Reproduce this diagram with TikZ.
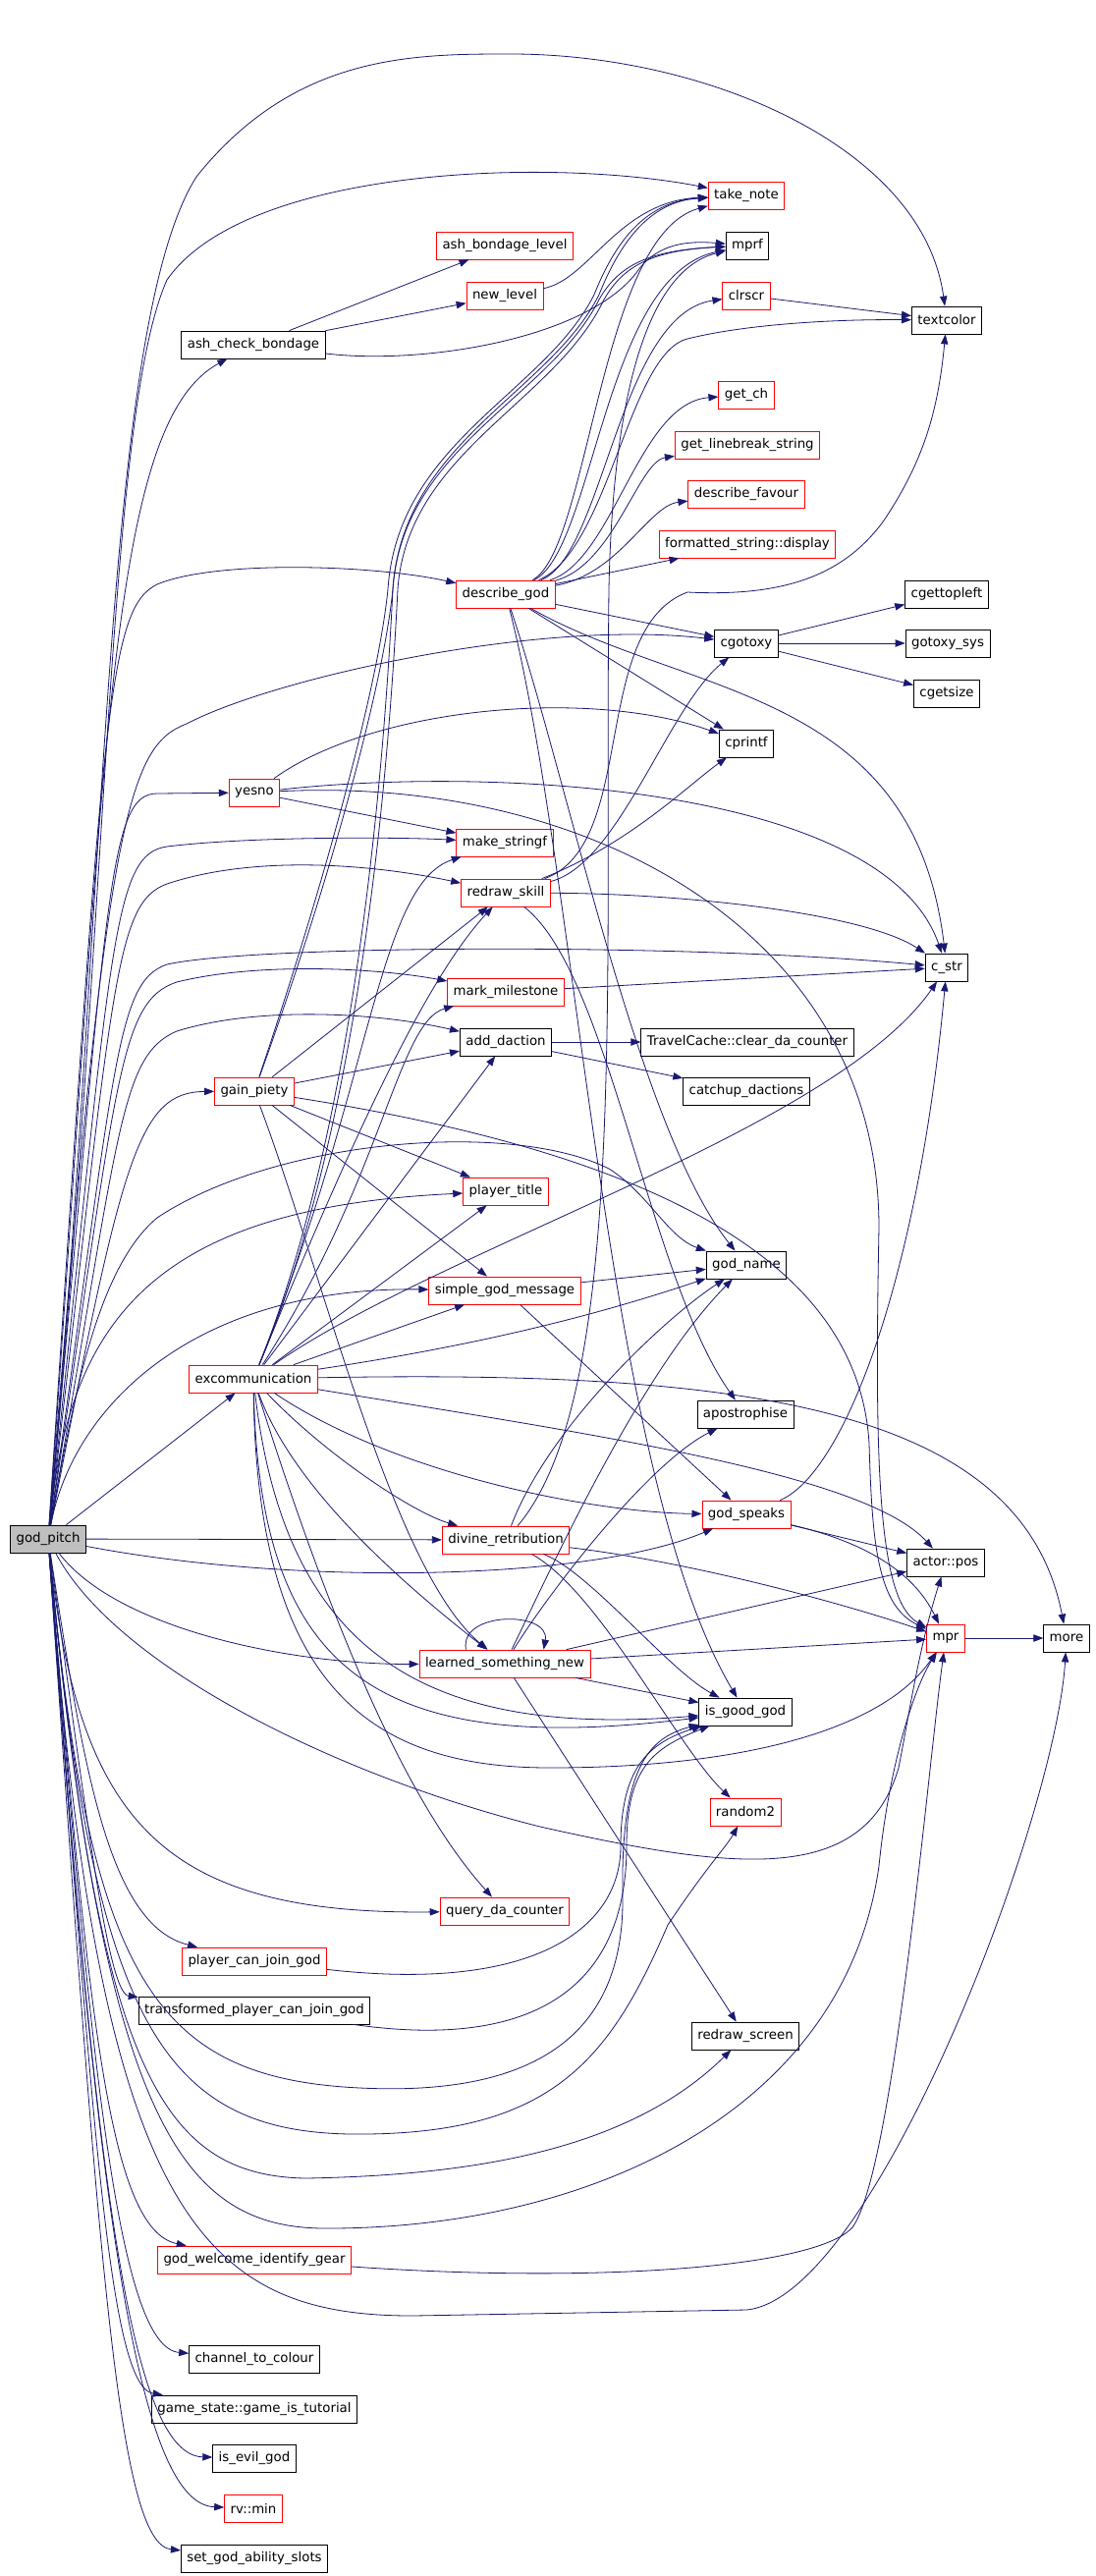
\documentclass[tikz,border=0pt]{standalone}
\usepackage{fontspec}
\setmainfont{DejaVu Sans}
\usetikzlibrary{arrows.meta}
\definecolor{navy}{HTML}{191970}

\begin{document}
\begin{tikzpicture}[x=0.75pt, y=-0.75pt, >={Triangle[length=7.5pt,width=5.5pt]}]
        \useasboundingbox[fill=white] (0,0) rectangle (1115,2623);
        \begin{scope}[every node/.style={rectangle,draw=black,fill=white,line width=0.6pt,
                      minimum height=21pt,inner xsep=4.5pt,inner ysep=0pt,
                      font=\fontsize{10pt}{12pt}\selectfont}]
            \node (GP) [fill=gray!50] at (49,1567) {god\_pitch};
            % first column
            \node (ACB) at (258,351) {ash\_check\_bondage};
            \node (YN) [draw=red] at (259,807) {yesno};
            \node (GAIN) [draw=red] at (259,1111) {gain\_piety};
            \node (EXC) [draw=red] at (258,1404) {excommunication};
            \node (PCJ) [draw=red] at (259,1997) {player\_can\_join\_god};
            \node (TPCJ) at (259,2047) {transformed\_player\_can\_join\_god};
            \node (GWIG) [draw=red] at (259,2301) {god\_welcome\_identify\_gear};
            \node (CTC) at (259,2402) {channel\_to\_colour};
            \node (TUT) at (259,2453) {game\_state::game\_is\_tutorial};
            \node (EVIL) at (259,2503) {is\_evil\_god};
            \node (MIN) [draw=red] at (258,2554) {rv::min};
            \node (SGAS) at (259,2605) {set\_god\_ability\_slots};
            % second column
            \node (ABL) [draw=red] at (514,250) {ash\_bondage\_level};
            \node (NL) [draw=red] at (514,301) {new\_level};
            \node (DG) [draw=red] at (515,605) {describe\_god};
            \node (MKS) [draw=red] at (514,858) {make\_stringf};
            \node (RS) [draw=red] at (515,909) {redraw\_skill};
            \node (MM) [draw=red] at (515,1010) {mark\_milestone};
            \node (AD) at (515,1061) {add\_daction};
            \node (PT) [draw=red] at (515,1213) {player\_title};
            \node (SGM) [draw=red] at (514,1314) {simple\_god\_message};
            \node (DR) [draw=red] at (515,1568) {divine\_retribution};
            \node (LSN) [draw=red] at (514,1694) {learned\_something\_new};
            \node (QDC) [draw=red] at (514,1946) {query\_da\_counter};
            % third column
            \node (TN) [draw=red] at (760,199) {take\_note};
            \node (MPRF) at (761,250) {mprf};
            \node (CLR) [draw=red] at (760,301) {clrscr};
            \node (GCH) [draw=red] at (760,402) {get\_ch};
            \node (GLS) [draw=red] at (761,453) {get\_linebreak\_string};
            \node (DF) [draw=red] at (760,503) {describe\_favour};
            \node (FSD) [draw=red] at (761,554) {formatted\_string::display};
            \node (CGO) at (760,655) {cgotoxy};
            \node (CPF) at (760,757) {cprintf};
            \node (TCC) at (761,1061) {TravelCache::clear\_da\_counter};
            \node (CUD) at (760,1111) {catchup\_dactions};
            \node (GN) at (760,1288) {god\_name};
            \node (APO) at (759,1440) {apostrophise};
            \node (GS) [draw=red] at (760,1542) {god\_speaks};
            \node (IGG) at (759,1743) {is\_good\_god};
            \node (R2) [draw=red] at (759,1845) {random2};
            \node (RSC) at (759,2073) {redraw\_screen};
            % fourth and fifth column
            \node (TC) at (964,326) {textcolor};
            \node (CGT) at (964,605) {cgettopleft};
            \node (GXS) at (965,655) {gotoxy\_sys};
            \node (CGS) at (964,706) {cgetsize};
            \node (CS) at (964,985) {c\_str};
            \node (APOS) at (963,1591) {actor::pos};
            \node (MPR) [draw=red] at (963,1668) {mpr};
            \node (MORE) at (1086,1668) {more};
        \end{scope}

        \begin{scope}[->, navy, line width=0.6pt]
            % god_pitch upwards
            \draw (GP) .. controls (110,900) and (105,330) .. (200,180) .. controls (300,55) and (420,55) .. (520,55) .. controls (720,55) and (940,150) .. (TC);
            \draw (GP) .. controls (112,900) and (110,420) .. (170,285) .. controls (250,170) and (560,160) .. (TN);
            \draw (GP) .. controls (108,750) and (112,430) .. (ACB);
            \draw (GP) .. controls (105,720) and (110,620) .. (160,595) .. controls (220,570) and (380,575) .. (DG);
            \draw (GP) .. controls (108,830) and (130,760) .. (190,737) .. controls (280,690) and (550,630) .. (CGO);
            \draw (GP) .. controls (110,910) and (110,808) .. (160,808) -- (YN);
            \draw (GP) .. controls (114,960) and (114,870) .. (170,862) .. controls (250,852) and (400,852) .. (MKS);
            \draw (GP) .. controls (116,1000) and (116,920) .. (170,900) .. controls (260,870) and (380,880) .. (RS);
            \draw (GP) .. controls (118,1080) and (118,1000) .. (170,982) .. controls (260,962) and (700,960) .. (CS);
            \draw (GP) .. controls (120,1100) and (120,1020) .. (180,1000) .. controls (260,980) and (380,985) .. (MM);
            \draw (GP) .. controls (122,1150) and (122,1075) .. (180,1050) .. controls (260,1025) and (380,1030) .. (AD);
            \draw (GP) .. controls (124,1180) and (140,1112) .. (GAIN);
            \draw (GP) .. controls (70,1350) and (150,1230) .. (PT);
            \draw (GP) .. controls (75,1420) and (100,1290) .. (160,1240) .. controls (280,1160) and (520,1140) .. (620,1190) .. controls (660,1215) and (680,1260) .. (GN);
            \draw (GP) .. controls (75,1430) and (200,1310) .. (SGM);
            \draw (GP) -- (EXC);
            \draw (GP) -- (DR);
            \draw (GP) .. controls (300,1615) and (600,1610) .. (GS);
            \draw (GP) .. controls (120,1660) and (300,1695) .. (LSN);
            % god_pitch downwards
            \draw (GP) .. controls (120,1700) and (350,1810) .. (550,1860) .. controls (750,1905) and (880,1920) .. (915,1800) .. controls (925,1750) and (935,1680) .. (APOS);
            \draw (GP) .. controls (80,1850) and (160,1950) .. (QDC);
            \draw (GP) .. controls (85,1800) and (110,1960) .. (PCJ);
            \draw (GP) .. controls (88,1850) and (110,2030) .. (TPCJ);
            \draw (GP) .. controls (90,2000) and (150,2110) .. (350,2125) .. controls (560,2140) and (636,2060) .. (634,1930) .. controls (632,1800) and (660,1770) .. (IGG);
            \draw (GP) .. controls (95,2050) and (160,2170) .. (357,2173) .. controls (560,2175) and (620,2100) .. (680,1960) .. controls (720,1900) and (740,1880) .. (R2);
            \draw (GP) .. controls (100,2100) and (160,2215) .. (311,2218) .. controls (480,2215) and (640,2190) .. (RSC);
            \draw (GP) .. controls (105,2150) and (180,2268) .. (330,2269) .. controls (600,2270) and (860,2150) .. (895,1900) .. controls (905,1800) and (930,1720) .. (MPR);
            \draw (GP) .. controls (100,2250) and (200,2358) .. (420,2358) -- (760,2352) .. controls (890,2340) and (1075,1850) .. (MORE);
            \draw (GP) .. controls (90,2050) and (110,2270) .. (GWIG);
            \draw (GP) .. controls (92,2100) and (120,2390) .. (CTC);
            \draw (GP) .. controls (94,2150) and (110,2430) .. (TUT);
            \draw (GP) .. controls (96,2200) and (130,2500) .. (EVIL);
            \draw (GP) .. controls (98,2250) and (140,2550) .. (MIN);
            \draw (GP) .. controls (100,2300) and (120,2590) .. (SGAS);
            % ash_check_bondage
            \draw (ACB) -- (ABL);
            \draw (ACB) -- (NL);
            \draw (ACB) .. controls (430,372) and (600,345) .. (650,275) .. controls (670,248) and (700,245) .. (MPRF);
            \draw (NL) .. controls (600,285) and (630,205) .. (TN);
            \draw (CLR) -- (TC);
            \draw (CGO) -- (CGT);
            \draw (CGO) -- (GXS);
            \draw (CGO) -- (CGS);
            \draw (AD) -- (TCC);
            \draw (AD) -- (CUD);
            \draw (MPR) -- (MORE);
            % describe_god
            \draw (DG) .. controls (600,560) and (610,240) .. (TN);
            \draw (DG) .. controls (605,560) and (615,280) .. (MPRF);
            \draw (DG) .. controls (615,565) and (630,320) .. (CLR);
            \draw (DG) .. controls (620,560) and (640,360) .. (700,345) .. controls (760,330) and (850,325) .. (TC);
            \draw (DG) .. controls (625,570) and (650,410) .. (GCH);
            \draw (DG) .. controls (625,575) and (650,470) .. (GLS);
            \draw (DG) .. controls (630,585) and (660,515) .. (DF);
            \draw (DG) -- (FSD);
            \draw (DG) -- (CGO);
            \draw (DG) -- (CPF);
            \draw (DG) .. controls (700,710) and (930,700) .. (CS);
            \draw (DG) .. controls (580,800) and (650,1150) .. (GN);
            \draw (DG) .. controls (590,900) and (615,1500) .. (IGG);
            % yesno
            \draw (YN) .. controls (380,720) and (600,700) .. (CPF);
            \draw (YN) -- (MKS);
            \draw (YN) .. controls (500,780) and (900,800) .. (CS);
            \draw (YN) .. controls (600,790) and (895,950) .. (895,1250) .. controls (890,1500) and (895,1630) .. (MPR);
            % redraw_skill
            \draw (RS) .. controls (650,860) and (600,640) .. (700,603) .. controls (800,608) and (860,585) .. (900,530) .. controls (940,470) and (955,420) .. (TC);
            \draw (RS) .. controls (630,880) and (680,720) .. (CGO);
            \draw (RS) .. controls (640,860) and (700,800) .. (CPF);
            \draw (RS) .. controls (700,910) and (880,930) .. (CS);
            \draw (RS) .. controls (620,990) and (660,1300) .. (APO);
            \draw (MM) -- (CS);
            % gain_piety
            \draw (GAIN) .. controls (330,900) and (385,700) .. (395,600) .. controls (405,450) and (555,400) .. (605,300) .. controls (625,250) and (655,205) .. (TN);
            \draw (GAIN) .. controls (335,900) and (390,700) .. (400,600) .. controls (410,455) and (560,405) .. (610,305) .. controls (630,270) and (660,255) .. (MPRF);
            \draw (GAIN) -- (RS);
            \draw (GAIN) -- (AD);
            \draw (GAIN) -- (PT);
            \draw (GAIN) -- (SGM);
            \draw (GAIN) .. controls (700,1180) and (875,1300) .. (885,1470) .. controls (888,1570) and (893,1635) .. (MPR);
            \draw (GAIN) .. controls (330,1300) and (400,1600) .. (LSN);
            % excommunication
            \draw (EXC) .. controls (360,1150) and (390,800) .. (400,600) .. controls (410,450) and (560,400) .. (610,300) .. controls (630,250) and (660,205) .. (TN);
            \draw (EXC) .. controls (365,1150) and (395,800) .. (405,600) .. controls (415,460) and (565,410) .. (615,305) .. controls (635,270) and (665,255) .. (MPRF);
            \draw (EXC) .. controls (380,1100) and (385,900) .. (MKS);
            \draw (EXC) .. controls (370,1130) and (440,990) .. (RS);
            \draw (EXC) .. controls (390,1200) and (405,1040) .. (MM);
            \draw (EXC) -- (AD);
            \draw (EXC) -- (PT);
            \draw (EXC) -- (SGM);
            \draw (EXC) .. controls (500,1368) and (620,1335) .. (GN);
            \draw (EXC) .. controls (450,1270) and (850,1150) .. (CS);
            \draw (EXC) .. controls (750,1395) and (1040,1430) .. (MORE);
            \draw (EXC) .. controls (600,1460) and (880,1500) .. (APOS);
            \draw (EXC) .. controls (400,1500) and (600,1540) .. (GS);
            \draw (EXC) .. controls (330,1480) and (420,1540) .. (DR);
            \draw (EXC) .. controls (300,1520) and (420,1620) .. (LSN);
            \draw (EXC) .. controls (265,1700) and (380,1790) .. (IGG);
            \draw (EXC) .. controls (290,1680) and (430,1770) .. (IGG);
            \draw (EXC) .. controls (320,1600) and (400,1820) .. (QDC);
            \draw (EXC) .. controls (262,1720) and (380,1800) .. (560,1800) .. controls (760,1800) and (900,1760) .. (MPR);
            % simple_god_message, divine_retribution, god_speaks
            \draw (SGM) -- (GN);
            \draw (SGM) -- (GS);
            \draw (DR) .. controls (640,1420) and (615,1000) .. (620,600) .. controls (624,400) and (660,275) .. (MPRF);
            \draw (DR) .. controls (560,1450) and (680,1340) .. (GN);
            \draw (DR) .. controls (700,1590) and (850,1630) .. (MPR);
            \draw (DR) .. controls (600,1600) and (680,1700) .. (IGG);
            \draw (DR) .. controls (610,1620) and (690,1780) .. (R2);
            \draw (GS) .. controls (860,1500) and (935,1300) .. (CS);
            \draw (GS) -- (APOS);
            \draw (GS) .. controls (880,1570) and (930,1600) .. (MPR);
            % learned_something_new
            \draw (LSN.160) to[out=100, in=80, looseness=1.3] (LSN.20);
            \draw (LSN) .. controls (560,1620) and (660,1490) .. (APO);
            \draw (LSN) .. controls (560,1600) and (650,1400) .. (GN);
            \draw (LSN) -- (APOS);
            \draw (LSN) -- (MPR);
            \draw (LSN) -- (IGG);
            \draw (LSN) -- (RSC);
            % the rest
            \draw (PCJ) .. controls (550,2030) and (632,1960) .. (632,1880) .. controls (632,1800) and (660,1775) .. (IGG);
            \draw (TPCJ) .. controls (560,2090) and (638,2010) .. (638,1880) .. controls (638,1800) and (665,1780) .. (IGG);
            \draw (GWIG) .. controls (600,2325) and (830,2310) .. (868,2268) .. controls (910,2210) and (945,1800) .. (MPR);
        \end{scope}
    \end{tikzpicture}
\end{document}
